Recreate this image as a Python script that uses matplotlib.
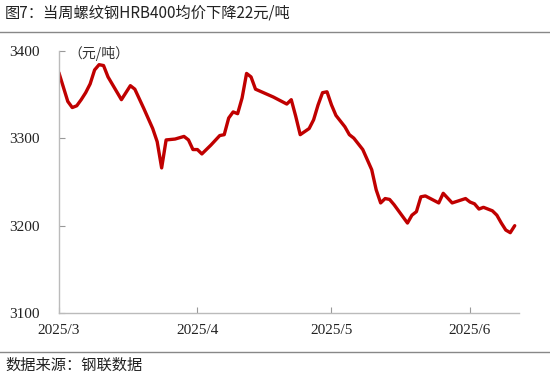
import pandas as pd
import matplotlib.pyplot as plt

# 螺纹钢HRB400均价 (元/吨)
dates = ["2025-03-01", "2025-03-03", "2025-03-04", "2025-03-05", "2025-03-06",
         "2025-03-07", "2025-03-08", "2025-03-09", "2025-03-10",
         "2025-03-11", "2025-03-12", "2025-03-15", "2025-03-16", "2025-03-17",
         "2025-03-18", "2025-03-20",
         "2025-03-22", "2025-03-23", "2025-03-24", "2025-03-25", "2025-03-27",
         "2025-03-29", "2025-03-30", "2025-03-31", "2025-04-01", "2025-04-02",
         "2025-04-04", "2025-04-06", "2025-04-07", "2025-04-08", "2025-04-09",
         "2025-04-10", "2025-04-11", "2025-04-12", "2025-04-13", "2025-04-14",
         "2025-04-18", "2025-04-21", "2025-04-22", "2025-04-23", "2025-04-24",
         "2025-04-26", "2025-04-27", "2025-04-28", "2025-04-29", "2025-04-30",
         "2025-05-01",
         "2025-05-02", "2025-05-04", "2025-05-05", "2025-05-06", "2025-05-08",
         "2025-05-10", "2025-05-11", "2025-05-12", "2025-05-13", "2025-05-14",
         "2025-05-15",
         "2025-05-17", "2025-05-18", "2025-05-19", "2025-05-20", "2025-05-21",
         "2025-05-22", "2025-05-25", "2025-05-26", "2025-05-28", "2025-05-31",
         "2025-06-01", "2025-06-02", "2025-06-03", "2025-06-04", "2025-06-06",
         "2025-06-07", "2025-06-08", "2025-06-09", "2025-06-10", "2025-06-11"]
prices = [3375, 3342, 3335, 3337, 3344,
          3352, 3362, 3378, 3384,
          3383, 3370, 3344, 3352, 3360,
          3356, 3334,
          3311, 3296, 3266, 3298, 3299,
          3302, 3298, 3287, 3287, 3282,
          3292, 3303, 3304, 3323, 3330,
          3328, 3346, 3374, 3370, 3356,
          3347, 3339, 3344, 3325, 3304,
          3311, 3321, 3338, 3352, 3353,
          3338,
          3326, 3313, 3304, 3300, 3287,
          3264, 3241, 3226, 3231, 3230,
          3224,
          3210, 3203, 3212, 3216, 3233,
          3234, 3226, 3237, 3226, 3231,
          3227, 3225, 3219, 3221, 3217,
          3212, 3203, 3195, 3192, 3200]

tick_dates = ["2025-03-01", "2025-04-01", "2025-05-01", "2025-06-01"]
tick_labels = ["2025/3", "2025/4", "2025/5", "2025/6"]
y_ticks = [3100, 3200, 3300, 3400]

title = "图7：当周螺纹钢HRB400均价下降22元/吨"
source = "数据来源：钢联数据"

plt.rcParams['font.family'] = ['Noto Sans CJK SC', 'DejaVu Sans']

fig = plt.figure(figsize=(5.5, 3.81), dpi=100)
ax = fig.add_axes([0.107, 0.178, 0.837, 0.689])

x = pd.to_datetime(dates)
ax.plot(x, prices, color="#C00000", linewidth=2.4, solid_capstyle="round",
        solid_joinstyle="round")

ax.set_xlim(pd.Timestamp("2025-03-01"), pd.Timestamp("2025-06-12"))
ax.set_ylim(3100, 3400)
ax.set_xticks(pd.to_datetime(tick_dates))
ax.set_xticklabels(tick_labels)
ax.set_yticks(y_ticks)
ax.set_yticklabels([str(v) for v in y_ticks])

for lab in ax.get_xticklabels() + ax.get_yticklabels():
    lab.set_family("Liberation Serif")
    lab.set_fontsize(11)
    lab.set_color("#222222")

ax.tick_params(axis="both", direction="in", length=4, color="#999999", width=0.8)
ax.tick_params(axis="x", pad=8)
ax.tick_params(axis="y", pad=14)

for side in ["top", "right"]:
    ax.spines[side].set_visible(False)
for side in ["left", "bottom"]:
    ax.spines[side].set_color("#BBBBBB")
    ax.spines[side].set_linewidth(1.0)

ax.text(0.02, 0.99, "（元/吨）", transform=ax.transAxes, fontsize=10,
        color="#333333", va="center", ha="left")

fig.text(0.009, 0.965, title, fontsize=11, color="#222222", va="center", ha="left")
fig.add_artist(plt.Line2D([0, 1], [0.916, 0.916], color="#888888", linewidth=1.0))
fig.add_artist(plt.Line2D([0, 1], [0.077, 0.077], color="#888888", linewidth=1.0))
fig.text(0.009, 0.042, source, fontsize=11, color="#222222", va="center", ha="left")

fig.savefig("out.png", dpi=100)
